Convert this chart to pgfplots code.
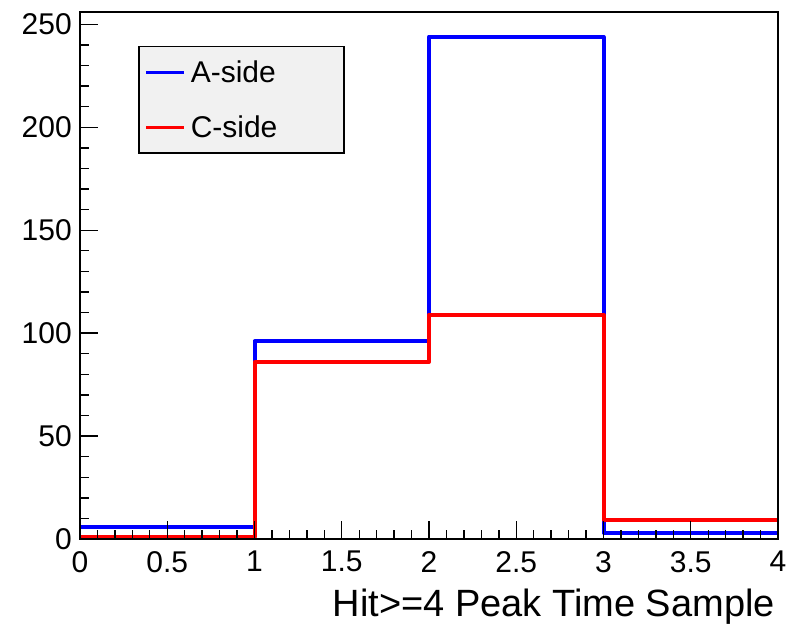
\documentclass[border=0pt]{standalone}
\usepackage{pgfplots}
\pgfplotsset{compat=1.18}
\usepackage{fontspec}
\setmainfont{Liberation Sans}
\definecolor{legfill}{RGB}{241,241,241}
\definecolor{rblue}{RGB}{0,0,255}
\definecolor{rred}{RGB}{255,0,0}
\begin{document}
\begin{tikzpicture}
\begin{axis}[
  scale only axis, width=698pt, height=527pt,
  xmin=0, xmax=4, ymin=0, ymax=256,
  axis on top,
  axis line style={line width=1.6pt, black},
  tick align=inside,
  xtick={0,0.5,...,4}, minor x tick num=4,
  ytick={0,50,...,250}, minor y tick num=4,
  xtick pos=bottom, ytick pos=left,
  major tick length=18pt, minor tick length=9pt,
  tick style={line width=1.4pt, black},
  /pgf/number format/assume math mode=true,
  xticklabels={0,0.5,1,1.5,2,2.5,3,3.5,4},
  yticklabels={0,50,100,150,200,250},
  xticklabel style={font=\fontsize{30}{34}\selectfont, inner sep=0pt, anchor=north, yshift=-12pt},
  yticklabel style={font=\fontsize{30}{34}\selectfont, inner sep=0pt, anchor=east, xshift=-8pt},
  xlabel={Hit>=4 Peak Time Sample},
  xlabel style={font=\fontsize{38}{42}\selectfont, at={(rel axis cs:1,0)}, anchor=base east, inner sep=0pt, yshift=-77pt, xshift=-3pt},
  legend style={at={(rel axis cs:0.0831,0.9355)}, anchor=north west, draw=black, line width=1.5pt, fill=legfill,
    inner xsep=6pt, inner ysep=14.5pt, row sep=31pt, column sep=5pt,
    font=\fontsize{30}{36}\selectfont,
    nodes={inner sep=0pt}},
  legend cell align=left,
  legend image code/.code={\draw[#1, line width=3pt] (0pt,0pt) -- (38pt,0pt);},
]
\addplot[const plot, color=rblue, line width=4pt, line join=round] coordinates {(0,6) (1,96) (2,244) (3,3) (4,3)};
\addlegendentry{\makebox[147pt][l]{A-side}}
\addplot[const plot, color=rred, line width=4pt, line join=round] coordinates {(0,1) (1,86) (2,109) (3,9) (4,9)};
\addlegendentry{\makebox[147pt][l]{C-side}}
\end{axis}
\pgfresetboundingbox
\path ([shift={(-80pt,-85pt)}]current axis.south west) rectangle ([shift={(14pt,12pt)}]current axis.north east);
\end{tikzpicture}
\end{document}
